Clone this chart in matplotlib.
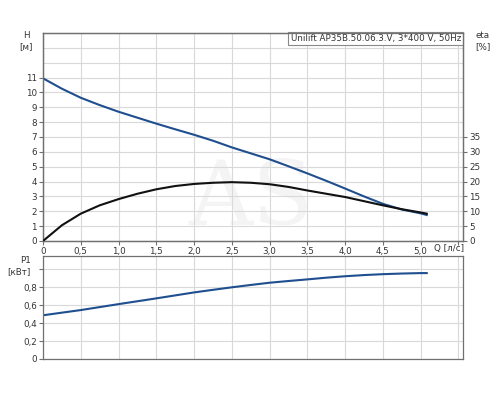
import numpy as np
import matplotlib.pyplot as plt

# Kennlinien-Daten
q = [0, 0.25, 0.5, 0.75, 1.0, 1.25, 1.5, 1.75, 2.0, 2.25, 2.5, 2.75,
     3.0, 3.25, 3.5, 3.75, 4.0, 4.25, 4.5, 4.75, 5.0, 5.08]
head = [10.95, 10.25, 9.64, 9.15, 8.7, 8.3, 7.9, 7.52, 7.15, 6.75, 6.3, 5.9,
        5.5, 5.03, 4.55, 4.05, 3.53, 3.0, 2.5, 2.12, 1.86, 1.75]
eta = [0, 5.3, 9.2, 12.0, 14.1, 15.9, 17.4, 18.5, 19.2, 19.6, 19.8, 19.6,
       19.1, 18.2, 17.0, 15.9, 14.8, 13.4, 12.0, 10.7, 9.6, 9.2]
p1 = [0.486, 0.515, 0.544, 0.577, 0.61, 0.642, 0.674, 0.707, 0.74, 0.769, 0.797, 0.823,
      0.848, 0.867, 0.885, 0.904, 0.92, 0.933, 0.943, 0.95, 0.955, 0.955]

x_ticks = [0, 0.5, 1.0, 1.5, 2.0, 2.5, 3.0, 3.5, 4.0, 4.5, 5.0, 5.5]
x_labels = ["0", "0,5", "1,0", "1,5", "2,0", "2,5", "3,0", "3,5", "4,0", "4,5", "5,0", ""]
h_ticks = list(range(0, 12))
eta_ticks = list(range(0, 40, 5))
p_ticks = [0, 0.2, 0.4, 0.6, 0.8, 1.0]
p_labels = ["0", "0,2", "0,4", "0,6", "0,8", ""]
title = "Unilift AP35B.50.06.3.V, 3*400 V, 50Hz"

plt.rcParams['font.family'] = ['DejaVu Sans']
fs = 6.3
grid_c = '#d9d9d9'
spine_c = '#707070'
txt_c = '#333333'

fig = plt.figure(figsize=(5, 4), dpi=100)
ax = fig.add_axes([0.086, 0.3975, 0.84, 0.52])
ax2 = ax.twinx()
axp = fig.add_axes([0.086, 0.1025, 0.84, 0.2575])

def style(a):
    for s in a.spines.values():
        s.set_color(spine_c)
        s.set_linewidth(0.9)
    a.tick_params(colors=spine_c, labelcolor=txt_c, labelsize=fs, length=3, width=0.8, pad=1.5)

# oberes Diagramm: H und eta
ax.set_xlim(0, 5.56)
ax.set_ylim(0, 14)
ax2.set_ylim(0, 70)
ax.set_xticks(x_ticks)
ax.set_xticklabels(x_labels)
ax.set_yticks(h_ticks)
ax.set_yticks(range(0, 15), minor=True)
ax.tick_params(which='minor', length=0)
ax.grid(True, which='both', color=grid_c, linewidth=0.8)
ax.set_axisbelow(True)
ax2.set_yticks(eta_ticks)
style(ax)
style(ax2)

ax.text(2.75, 2.75, "AS", fontsize=64, family='DejaVu Serif', color='#f4f4f4',
        ha='center', va='center', zorder=0)

ax.plot(q, head, color='#1f4f8f', linewidth=1.5, zorder=3)
ax2.plot(q, eta, color='#111111', linewidth=1.5, zorder=3)

ax.text(0.995, 0.995, title, transform=ax.transAxes, ha='right', va='top',
        fontsize=fs, color=txt_c,
        bbox=dict(boxstyle='square,pad=0.25', facecolor='white', edgecolor='#888888', linewidth=0.8))

fig.text(0.052, 0.897, "H\n[м]", ha='center', va='center', fontsize=fs, color=txt_c, linespacing=1.2)
fig.text(0.965, 0.897, "eta\n[%]", ha='center', va='center', fontsize=fs, color=txt_c, linespacing=1.2)
fig.text(0.898, 0.378, "Q [л/с]", ha='center', va='center', fontsize=fs, color=txt_c)

# unteres Diagramm: P1
axp.set_xlim(0, 5.56)
axp.set_ylim(0, 1.145)
axp.set_xticks(x_ticks)
axp.set_xticklabels([])
axp.set_yticks(p_ticks)
axp.set_yticklabels(p_labels)
axp.grid(True, color=grid_c, linewidth=0.8)
axp.set_axisbelow(True)
style(axp)
axp.tick_params(axis='x', length=0)
axp.plot(q, p1, color='#1f4f8f', linewidth=1.5)

fig.text(0.062, 0.335, "P1\n[кВт]", ha='right', va='center', multialignment='right',
         fontsize=fs, color=txt_c, linespacing=1.2)

fig.savefig("out.png", dpi=100)
